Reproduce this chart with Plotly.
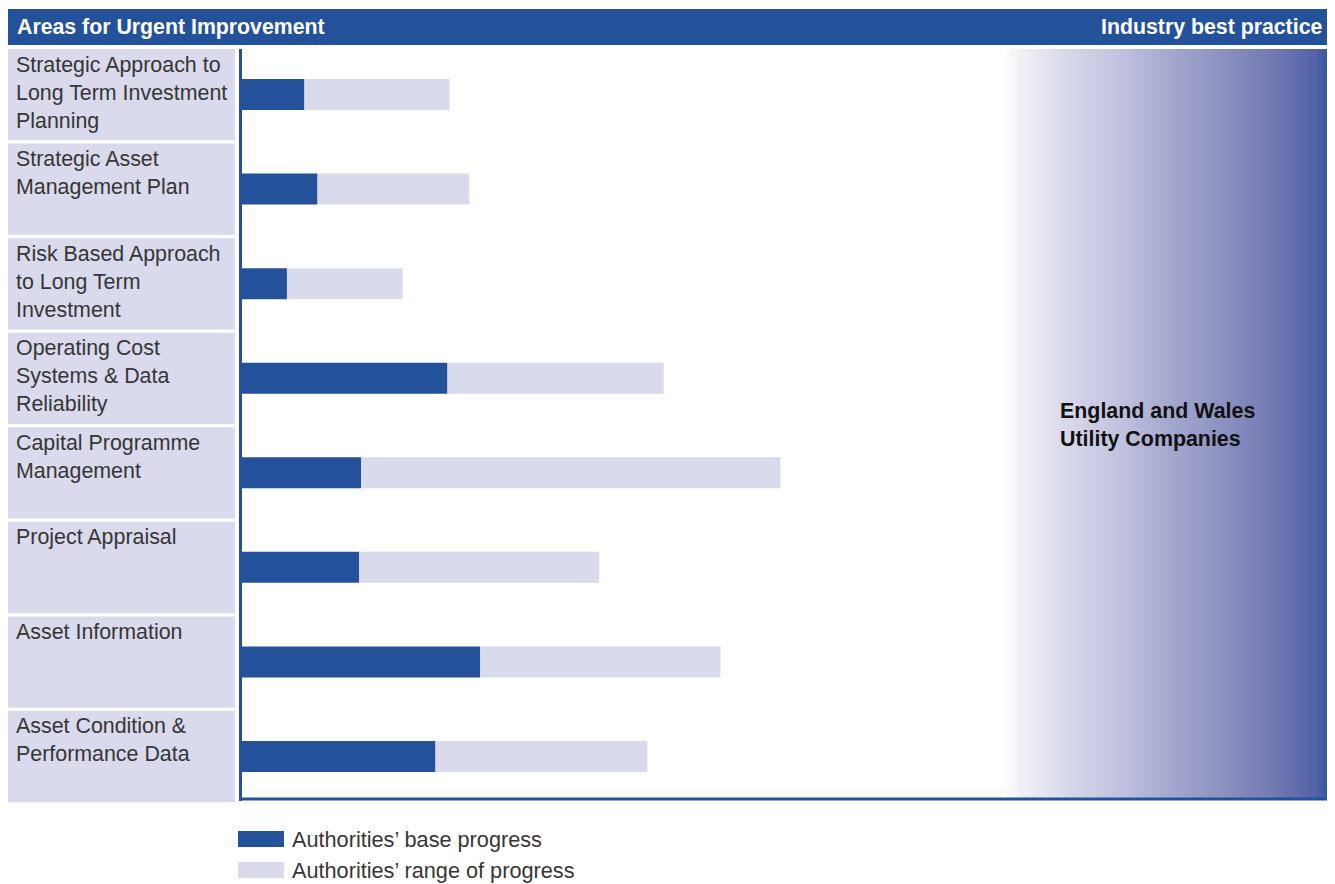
import numpy as np
import plotly.graph_objects as go

# page body adds 8px offset; figure is sized so it fits the 1335x884 window
W, H = 1327, 876
OFF = 8

categories = [
    "Strategic Approach to<br>Long Term Investment<br>Planning",
    "Strategic Asset<br>Management Plan",
    "Risk Based Approach<br>to Long Term<br>Investment",
    "Operating Cost<br>Systems & Data<br>Reliability",
    "Capital Programme<br>Management",
    "Project Appraisal",
    "Asset Information",
    "Asset Condition &<br>Performance Data",
]
base_progress = [5.9, 7.1, 4.3, 19.0, 11.1, 10.9, 22.0, 17.9]
range_end = [19.2, 21.0, 14.9, 38.8, 49.5, 32.9, 44.0, 37.3]
range_progress = [e - b for e, b in zip(range_end, base_progress)]

header_left = "Areas for Urgent Improvement"
header_right = "Industry best practice"
benchmark_label = "England and Wales<br>Utility Companies"
legend_names = ["Authorities’ base progress", "Authorities’ range of progress"]

DARK = "#23529a"
LIGHT = "#d9daeb"
FONT = "Liberation Sans"
TXT = "#363636"

# plot area in page pixels
PX0, PX1 = 240, 1332
PY0, PY1 = 49, 800
ROW = 94.57          # row pitch in pixels
FIRST = 94.5         # centre of first row in pixels


def px(x):
    return (x - OFF) / W


def py(y):
    return 1 - (y - OFF) / H


fig = go.Figure()

# gradient band (decorative) on the right
ncols = 82
gx = np.linspace(70.0, 100.0, ncols)
gz = [list(np.linspace(0, 1, ncols))] * 2
fig.add_trace(go.Heatmap(
    x=gx, y=[-0.5, 7.5], z=gz, showscale=False, hoverinfo="skip",
    colorscale=[[0.0, "#ffffff"], [0.05, "#f1f0f6"], [0.2, "#d6d7e9"],
                [0.35, "#c1c2df"], [0.5, "#a6a9cf"], [0.7, "#878cbd"],
                [0.85, "#6b74b0"], [0.95, "#5162a6"], [1.0, "#2a559c"]],
    zmin=0, zmax=1,
))

ypos = list(range(len(categories)))
fig.add_trace(go.Bar(
    y=ypos, x=base_progress, orientation="h", marker_color=DARK,
    marker_line_width=0, width=0.328, name=legend_names[0], showlegend=False,
))
fig.add_trace(go.Bar(
    y=ypos, x=range_progress, base=base_progress, orientation="h",
    marker_color=LIGHT, marker_line_width=0, width=0.328,
    name=legend_names[1], showlegend=False,
))

shapes = []
annotations = []

# header bar
shapes.append(dict(type="rect", xref="paper", yref="paper",
                   x0=px(8), x1=px(1332), y0=py(9), y1=py(45),
                   fillcolor=DARK, line_width=0, layer="below"))
annotations.append(dict(xref="paper", yref="paper", x=px(15), y=py(27),
                        xanchor="left", yanchor="middle", showarrow=False,
                        text="<b>" + header_left + "</b>",
                        font=dict(family=FONT, size=21.3, color="white")))
annotations.append(dict(xref="paper", yref="paper", x=px(1324), y=py(27),
                        xanchor="right", yanchor="middle", showarrow=False,
                        text="<b>" + header_right + "</b>",
                        font=dict(family=FONT, size=21.3, color="white")))

# category boxes with labels
for i, cat in enumerate(categories):
    top = PY0 + i * ROW
    shapes.append(dict(type="rect", xref="paper", yref="paper",
                       x0=px(8), x1=px(235), y0=py(top), y1=py(top + 91.3),
                       fillcolor=LIGHT, line_width=0, layer="below"))
    annotations.append(dict(xref="paper", yref="paper", x=px(14), y=py(top + 1.5),
                            xanchor="left", yanchor="top", showarrow=False,
                            align="left", text=cat,
                            font=dict(family=FONT, size=21.4, color=TXT)))

# axis lines
shapes.append(dict(type="line", xref="paper", yref="paper",
                   x0=px(240.5), x1=px(240.5), y0=py(PY0), y1=py(801),
                   line=dict(color=DARK, width=3)))
shapes.append(dict(type="line", xref="paper", yref="paper",
                   x0=px(239), x1=px(1332), y0=py(799), y1=py(799),
                   line=dict(color=DARK, width=3)))

# benchmark label
annotations.append(dict(xref="paper", yref="paper", x=px(1058), y=py(425),
                        xanchor="left", yanchor="middle", showarrow=False,
                        align="left", text="<b>" + benchmark_label + "</b>",
                        font=dict(family=FONT, size=21.4, color="#111111")))

# custom legend
for j, (name, col) in enumerate(zip(legend_names, [DARK, LIGHT])):
    cy = 839 + j * 31
    shapes.append(dict(type="rect", xref="paper", yref="paper",
                       x0=px(238), x1=px(284), y0=py(cy - 8), y1=py(cy + 8),
                       fillcolor=col, line_width=0))
    annotations.append(dict(xref="paper", yref="paper", x=px(290), y=py(cy),
                            xanchor="left", yanchor="middle", showarrow=False,
                            text=name,
                            font=dict(family=FONT, size=21.7, color=TXT)))

y_top = -(FIRST - PY0) / ROW
y_bot = y_top + (PY1 - PY0) / ROW

fig.update_layout(
    width=W, height=H,
    margin=dict(l=0, r=0, t=0, b=0),
    paper_bgcolor="white", plot_bgcolor="white",
    barmode="overlay",
    showlegend=False,
    xaxis=dict(domain=[px(PX0), px(PX1)], range=[0, 100], showgrid=False,
               zeroline=False, showticklabels=False, ticks="", fixedrange=True),
    yaxis=dict(domain=[py(PY1), py(PY0)], range=[y_bot, y_top], showgrid=False,
               zeroline=False, showticklabels=False, ticks="", fixedrange=True),
    shapes=shapes,
    annotations=annotations,
    font=dict(family=FONT),
)

fig.write_html("out.html")
